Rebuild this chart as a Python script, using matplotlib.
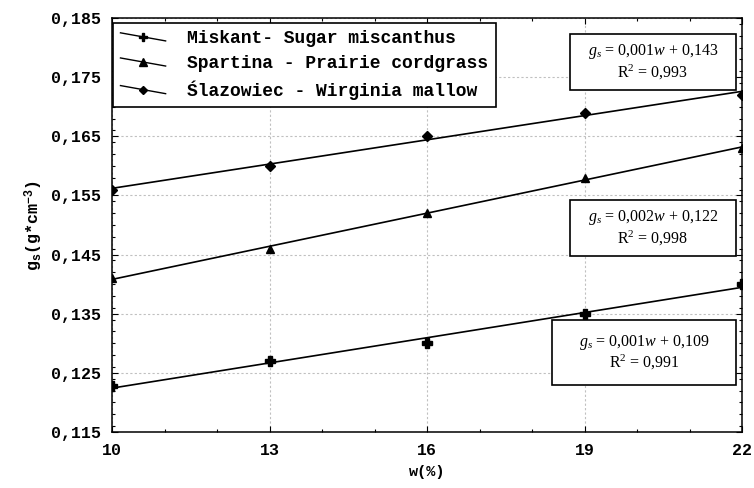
import numpy as np
import matplotlib
matplotlib.use("Agg")
import matplotlib.pyplot as plt
from matplotlib.legend_handler import HandlerLine2D
from matplotlib.patches import Rectangle
from matplotlib.ticker import FixedLocator, MultipleLocator, FuncFormatter

plt.rcParams['mathtext.fontset'] = 'custom'
plt.rcParams['mathtext.rm'] = 'Liberation Serif'
plt.rcParams['mathtext.it'] = 'Liberation Serif:italic'
plt.rcParams['mathtext.bf'] = 'Liberation Mono:bold'

# ---- data ----
w_values = [10, 13, 16, 19, 22]
miskant = [0.1227, 0.127, 0.130, 0.135, 0.140]
spartina = [0.141, 0.146, 0.152, 0.158, 0.163]
slazowiec = [0.156, 0.160, 0.165, 0.169, 0.172]
series_names = ["Miskant- Sugar miscanthus",
                "Spartina - Prairie cordgrass",
                "Ślazowiec - Wirginia mallow"]
eq_labels = [r"$g_s$ = 0,001$w$ + 0,143" + "\n" + r"R$^{\mathrm{2}}$ = 0,993",
             r"$g_s$ = 0,002$w$ + 0,122" + "\n" + r"R$^{\mathrm{2}}$ = 0,998",
             r"$g_s$ = 0,001$w$ + 0,109" + "\n" + r"R$^{\mathrm{2}}$ = 0,991"]
x_ticks = [10, 13, 16, 19, 22]
y_ticks = [0.115, 0.125, 0.135, 0.145, 0.155, 0.165, 0.175, 0.185]

MONO = 'Liberation Mono'
SERIF = 'Liberation Serif'

fig = plt.figure(figsize=(7.54, 4.88), dpi=100)
W, H = 754, 488
L, R, T, B = 112, 742, 18, 432
ax = fig.add_axes([L / W, 1 - B / H, (R - L) / W, (B - T) / H])

x = np.array(w_values, dtype=float)
xx = np.array([x.min(), x.max()])
handles = []
for ys, mk, ms, name in [(miskant, 'P', 7.5, series_names[0]),
                         (spartina, '^', 6, series_names[1]),
                         (slazowiec, 'D', 5, series_names[2])]:
    ys = np.array(ys)
    k, b = np.polyfit(x, ys, 1)
    ax.plot(xx, k * xx + b, color='black', lw=1.2, zorder=3)
    ax.plot(x, ys, linestyle='none', marker=mk, ms=ms, color='black', zorder=4)
    h, = ax.plot([], [], color='black', lw=1.0, marker=mk, ms=ms * 0.85, label=name)
    handles.append(h)

ax.set_xlim(10, 22)
ax.set_ylim(0.115, 0.185)
ax.xaxis.set_major_locator(FixedLocator(x_ticks))
ax.xaxis.set_minor_locator(MultipleLocator(1))
ax.yaxis.set_major_locator(FixedLocator(y_ticks))
ax.yaxis.set_minor_locator(MultipleLocator(0.002))
ax.yaxis.set_major_formatter(FuncFormatter(lambda v, p: f"{v:.3f}".replace('.', ',')))
ax.xaxis.set_major_formatter(FuncFormatter(lambda v, p: f"{v:.0f}"))

ax.grid(True, which='major', linestyle=(0, (2, 2)), color='#c0c0c0', lw=0.8, zorder=0)
ax.tick_params(which='both', direction='in', top=True, right=True, colors='black',
               width=0.8)
ax.tick_params(which='major', length=4, pad=8)
ax.tick_params(which='minor', length=2.5)
for lab in ax.get_xticklabels() + ax.get_yticklabels():
    lab.set_fontfamily(MONO)
    lab.set_fontweight('bold')
    lab.set_fontsize(12)
for s in ax.spines.values():
    s.set_linewidth(1.1)

ax.set_xlabel("w(%)", fontfamily=MONO, fontweight='bold', fontsize=11, labelpad=5)
ax.set_ylabel(r"g$_{\mathbf{s}}$(g*cm$^{\mathbf{-3}}$)", fontfamily=MONO,
              fontweight='bold', fontsize=12, labelpad=4)


class SlopedHandler(HandlerLine2D):
    def create_artists(self, legend, orig_handle, xdescent, ydescent,
                       width, height, fontsize, trans):
        arts = super().create_artists(legend, orig_handle, xdescent, ydescent,
                                      width, height, fontsize, trans)
        line = arts[0]
        xd = np.asarray(line.get_xdata(), dtype=float)
        y0 = (height - ydescent) / 2
        line.set_ydata(np.linspace(y0 + 0.32 * height, y0 - 0.32 * height, len(xd)))
        return arts


leg = ax.legend(handles=handles, loc='upper left', bbox_to_anchor=(0.002, 0.988),
                prop={'family': MONO, 'weight': 'bold', 'size': 13},
                handler_map={h: SlopedHandler(numpoints=1) for h in handles},
                frameon=True, fancybox=False, edgecolor='black', framealpha=1,
                borderpad=0.4, handlelength=2.5, handletextpad=1.2,
                labelspacing=0.45, borderaxespad=0)
leg.get_frame().set_linewidth(1.2)

# equation boxes (pixel positions converted to axes fraction)
boxes_px = [(570, 736, 34, 90), (570, 736, 200, 256), (552, 736, 320, 385)]
for (x0, x1, y0, y1), txt in zip(boxes_px, eq_labels):
    fx0 = (x0 - L) / (R - L)
    fx1 = (x1 - L) / (R - L)
    fy0 = (B - y1) / (B - T)
    fy1 = (B - y0) / (B - T)
    ax.add_patch(Rectangle((fx0, fy0), fx1 - fx0, fy1 - fy0, transform=ax.transAxes,
                           facecolor='white', edgecolor='black', lw=1.2, zorder=5))
    ax.text((fx0 + fx1) / 2, (fy0 + fy1) / 2, txt, transform=ax.transAxes,
            ha='center', va='center', fontfamily=SERIF, fontsize=11.5,
            multialignment='center', linespacing=1.1, zorder=6)

fig.savefig("out.png", dpi=100)
